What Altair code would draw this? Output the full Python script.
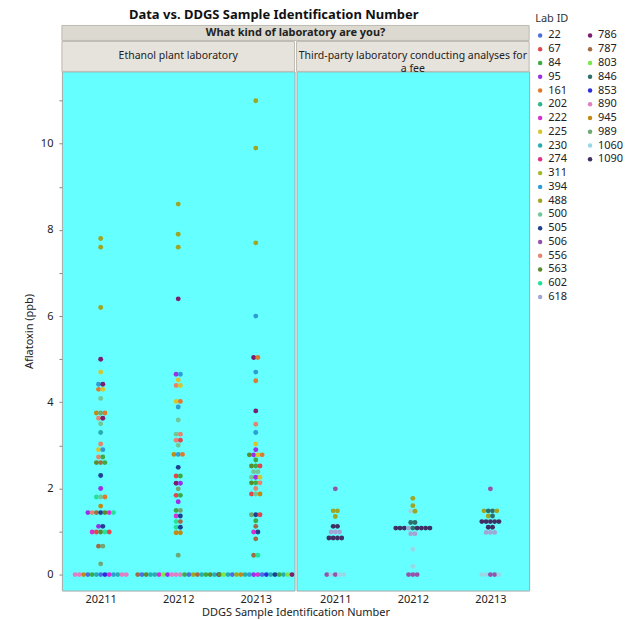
import altair as alt
import pandas as pd

# ---------------- data ----------------
LAB_TYPES = ["Ethanol plant laboratory",
             "Third-party laboratory conducting analyses for a fee"]
STRIP_LABELS = ["Ethanol plant laboratory",
                "Third-party laboratory conducting analyses for\na fee"]
SAMPLES = [20211, 20212, 20213]

LAB_IDS = [22, 67, 84, 95, 161, 202, 222, 225, 230, 274, 311, 394, 488, 500, 505,
           506, 556, 563, 602, 618, 786, 787, 803, 846, 853, 890, 945, 989, 1060, 1090]
LAB_COLORS = ["#4a6fe0", "#e0474f", "#3cab44", "#9a30e8", "#e07a2c", "#2cb58e",
              "#d630d4", "#d6c62c", "#27adb0", "#e0308a", "#a2b82c", "#2e9cd6",
              "#a0a623", "#70c896", "#1f3f8f", "#9454aa", "#e8836e", "#5a8b2c",
              "#22e39a", "#a2a6d4", "#7b1e6d", "#a36b41", "#7ae84a", "#2d6f6a",
              "#2e2edc", "#e07fc3", "#c38a12", "#6ea873", "#98d8e6", "#3f2f63"]

# (aflatoxin ppb, [lab ids reporting that value])
ETHANOL_20211 = [
    (7.8, [488]), (7.6, [488]), (6.2, [488]), (5.0, [786]), (4.7, [225]),
    (4.42, [394, 786]), (4.3, [161, 225]), (4.09, [500]), (3.75, [945, 989, 161]),
    (3.63, [556, 786]), (3.5, [500]), (3.3, [230]), (3.03, [556]), (2.9, [225, 394]),
    (2.73, [556, 84]), (2.6, [563, 787, 84]), (2.3, [505]), (2.0, [95]),
    (1.8, [602, 500, 161]), (1.59, [945]), (1.44, [95, 556, 787, 505, 563, 222, 602]),
    (1.12, [95, 505]), (0.99, [222, 67, 563, 602, 67]), (0.66, [787, 989]), (0.25, [989]),
    (0.0, [890, 890, 945, 22, 84, 230, 22, 853, 222, 394, 230, 890, 890]),
]
ETHANOL_20212 = [
    (8.6, [488]), (7.9, [488]), (7.6, [488]), (6.4, [786]), (4.65, [95, 394]),
    (4.52, [225]), (4.39, [556, 225]), (4.02, [225, 161]), (3.89, [394]), (3.59, [500]),
    (3.26, [500, 556]), (3.12, [556, 67]), (3.0, [500]), (2.79, [945, 394, 161]),
    (2.49, [505]), (2.29, [67, 84]), (2.12, [786, 95]), (1.99, [989]), (1.84, [67, 84]),
    (1.69, [95]), (1.49, [84, 989]), (1.36, [222, 505]), (1.23, [602, 787]),
    (1.10, [602, 505]), (0.97, [945, 945]), (0.45, [989]),
    (0.0, [787, 22, 563, 230, 230, 222, 803, 95, 890, 890, 890, 84, 22, 488, 787, 230,
           84, 563, 230, 786]),
]
ETHANOL_20213 = [
    (11.0, [488]), (9.9, [488]), (7.7, [488]), (6.0, [394]), (5.04, [786, 161]),
    (4.7, [394]), (4.5, [161]), (3.8, [786]), (3.49, [556]), (3.3, [394]), (3.03, [225]),
    (2.9, [95]), (2.78, [563, 95, 225, 161]), (2.66, [84]), (2.52, [563, 84, 67]),
    (2.39, [500, 500]), (2.26, [500, 95, 225]), (2.13, [563, 84, 556]), (2.0, [556]),
    (1.87, [67, 500, 945]), (1.39, [989, 505, 67]), (1.25, [84]), (1.12, [787]),
    (0.99, [222, 505]), (0.83, [787]), (0.45, [787, 602]),
    (0.0, [563, 803, 230, 22, 488, 945, 230, 394, 95, 222, 22, 853, 230, 505, 84, 230,
           803, 786]),
]
THIRD_20211 = [
    (1.99, [506]), (1.48, [488, 488]), (1.35, [488]), (1.12, [1090, 1090]),
    (0.99, [618, 618, 618]), (0.85, [1090, 1090, 1090, 1090]),
    (0.0, [506, 1060, 506, 1060, 1060]),
]
THIRD_20212 = [
    (1.77, [488]), (1.60, [488]), (1.47, [1060, 488]), (1.21, [846, 846]),
    (1.08, [1090, 1090, 1090, 618, 846, 1090, 1090, 1090, 1090]), (0.95, [618, 618]),
    (0.59, [1060]), (0.19, [1060]), (0.0, [506, 506, 506]),
]
THIRD_20213 = [
    (1.99, [506]), (1.48, [488, 846, 846, 488]), (1.36, [488, 846]),
    (1.23, [1090, 1090, 1090, 1090, 1090]), (1.10, [1090, 1090]),
    (0.98, [618, 618, 618]), (0.0, [1060, 1060, 506, 506, 1060]),
]

GROUPS = [
    (LAB_TYPES[0], SAMPLES[0], ETHANOL_20211), (LAB_TYPES[0], SAMPLES[1], ETHANOL_20212),
    (LAB_TYPES[0], SAMPLES[2], ETHANOL_20213), (LAB_TYPES[1], SAMPLES[0], THIRD_20211),
    (LAB_TYPES[1], SAMPLES[1], THIRD_20212), (LAB_TYPES[1], SAMPLES[2], THIRD_20213),
]
rows = []
for lab_type, sample, groups in GROUPS:
    for value, labs in groups:
        for lab in labs:
            rows.append({"lab_type": lab_type, "sample": sample, "aflatoxin": value,
                         "lab_id": lab, "order": len(rows)})
df = pd.DataFrame(rows)

# ---------------- layout ----------------
FONT = "Noto Sans"
CYAN = "#66ffff"
STRIP = "#e6e3dc"
STRIP_STROKE = "#bdbab2"
BORDER = "#a9a9a9"
W, H = 233, 520
GAP = 2
STEP = 0.055  # beeswarm spacing (fraction of a category band)

color = alt.Color("lab_id:N", scale=alt.Scale(domain=LAB_IDS, range=LAB_COLORS),
                  legend=None)
yscale = alt.Scale(domain=[-0.37, 11.68], nice=False, zero=False)


def panel(i):
    lab_type = LAB_TYPES[i]
    x_axis = alt.Axis(values=[0, 1, 2], labelExpr=f"format(datum.value + {SAMPLES[0]}, 'd')",
                      grid=False, ticks=False, domain=False, labelFontSize=11,
                      labelColor="#222", labelPadding=3,
                      title="DDGS Sample Identification Number" if i == 0 else None,
                      titleFontSize=11, titleFontWeight="normal", titleColor="#222",
                      titlePadding=2, titleX=W + GAP / 2)
    if i == 0:
        y_axis = alt.Axis(values=list(range(0, 12)),
                          labelExpr="datum.value % 2 == 0 ? datum.label : ''",
                          grid=False, domain=False, tickSize=3, tickColor="#888",
                          labelFontSize=11, labelColor="#222", labelPadding=6,
                          title="Aflatoxin (ppb)", titleFontSize=11,
                          titleFontWeight="normal", titleColor="#222", titlePadding=6)
        y = alt.Y("aflatoxin:Q", scale=yscale, axis=y_axis)
    else:
        y = alt.Y("aflatoxin:Q", scale=yscale, axis=None)

    pts = (
        alt.Chart(df)
        .transform_filter(alt.datum.lab_type == lab_type)
        .transform_window(rn="row_number()", groupby=["sample", "aflatoxin"],
                          sort=[alt.SortField("order")])
        .transform_joinaggregate(n="count()", groupby=["sample", "aflatoxin"])
        .transform_calculate(
            xpos=f"datum.sample - {SAMPLES[0]} + (datum.rn - (datum.n + 1) / 2) * {STEP}")
        .mark_circle(size=24, opacity=1, clip=True)
        .encode(
            x=alt.X("xpos:Q", scale=alt.Scale(domain=[-0.5, 2.5], nice=False, zero=False),
                    axis=x_axis),
            y=y,
            color=color,
            tooltip=["lab_id:N", "sample:N", "aflatoxin:Q"],
        )
    )
    strip_df = pd.DataFrame({"label": [STRIP_LABELS[i]]})
    strip_rect = alt.Chart(strip_df).mark_rect(fill=STRIP, stroke=STRIP_STROKE,
                                               strokeWidth=1).encode(
        x=alt.value(0), x2=alt.value(W), y=alt.value(-30), y2=alt.value(0))
    strip_text = alt.Chart(strip_df).mark_text(
        font=FONT, fontSize=10.5, color="#222", lineBreak="\n", baseline="middle",
        lineHeight=13).encode(x=alt.value(W / 2), y=alt.value(-15), text="label:N")
    layers = [strip_rect, strip_text]
    if i == 0:
        outer_df = pd.DataFrame({"label": ["What kind of laboratory are you?"]})
        outer_rect = alt.Chart(outer_df).mark_rect(fill="#dcd9d0", stroke=STRIP_STROKE,
                                                   strokeWidth=1).encode(
            x=alt.value(0), x2=alt.value(2 * W + GAP), y=alt.value(-46), y2=alt.value(-31))
        outer_text = alt.Chart(outer_df).mark_text(
            font=FONT, fontSize=11, fontWeight="bold", color="#222",
            baseline="middle").encode(x=alt.value(W + GAP / 2), y=alt.value(-38.5),
                                      text="label:N")
        layers = [outer_rect, outer_text] + layers
    return alt.layer(*layers, pts).properties(
        width=W, height=H, view=alt.ViewBackground(fill=CYAN, stroke=BORDER))


legend_df = pd.DataFrame({"lab_id": LAB_IDS})
leg_base = (
    alt.Chart(legend_df)
    .transform_window(i="row_number()")
    .transform_calculate(col="floor((datum.i - 1) / 20)", row="(datum.i - 1) % 20")
)
leg_x = alt.X("col:Q", scale=alt.Scale(domain=[0, 1], range=[9, 59]), axis=None)
leg_y = alt.Y("row:Q", scale=alt.Scale(domain=[0, 19], range=[-36, 226]), axis=None)
leg_sym = leg_base.mark_circle(size=20, opacity=1).encode(x=leg_x, y=leg_y, color=color)
leg_txt = leg_base.mark_text(font=FONT, fontSize=11, align="left", dx=8,
                             baseline="middle", color="#222").encode(
    x=leg_x, y=leg_y, text="lab_id:N")
leg_title = alt.Chart(pd.DataFrame({"t": ["Lab ID"]})).mark_text(
    font=FONT, fontSize=11, align="left", baseline="middle", color="#333").encode(
    x=alt.value(4), y=alt.value(-52), text="t:N")
legend = alt.layer(leg_title, leg_sym, leg_txt).properties(
    width=95, height=H,
    view=alt.ViewBackground(fill="transparent", stroke="transparent"))

chart = (
    alt.hconcat(panel(0), panel(1), legend, spacing=GAP, bounds="flush")
    .properties(
        title=alt.TitleParams("Data vs. DDGS Sample Identification Number", fontSize=13,
                              fontWeight="bold", font=FONT, color="#111",
                              anchor="middle", offset=-9, dx=-51),
        padding={"left": 14, "top": 0, "right": 0, "bottom": 0},
        background="white",
    )
    .configure(font=FONT)
)

chart.save("out.html", embed_options={"renderer": "svg", "actions": False})
